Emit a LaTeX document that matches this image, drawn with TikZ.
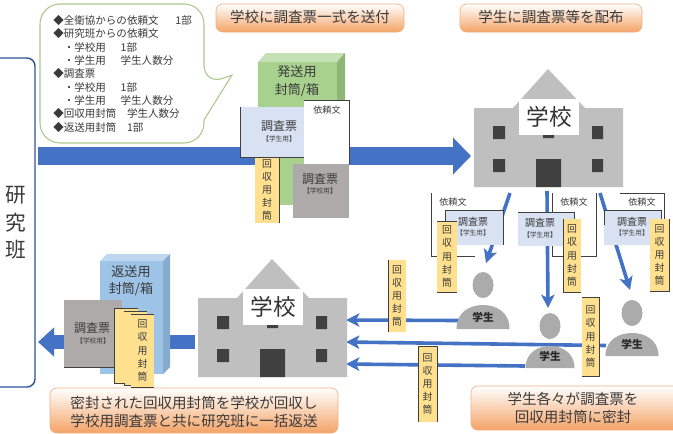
\documentclass[tikz,border=0pt]{standalone}
\usepackage{fontspec}
\setmainfont{Noto Sans CJK JP}
\usetikzlibrary{arrows.meta}
\definecolor{bluearrow}{HTML}{4472C4}
\definecolor{framenavy}{HTML}{2F5597}
\definecolor{txtgray}{HTML}{3A3A3A}
\definecolor{edge}{HTML}{404040}
\definecolor{bldg}{HTML}{BFBFBF}
\definecolor{bldgdark}{HTML}{404040}
\definecolor{person}{HTML}{ABABAB}
\definecolor{envfill}{HTML}{FFE08F}
\definecolor{sheetblue}{HTML}{D9E2F3}
\definecolor{sheetgray}{HTML}{AEAAAA}
\definecolor{greenfront}{HTML}{A9D18E}
\definecolor{greentop}{HTML}{C5E0B4}
\definecolor{greenside}{HTML}{8FB577}
\definecolor{bluefront}{HTML}{9DC3E6}
\definecolor{bluetop}{HTML}{BDD7EE}
\definecolor{blueside}{HTML}{85ABCF}
\definecolor{callout}{HTML}{A9C98E}
\definecolor{bannerline}{HTML}{F4B183}
\definecolor{bannerbase}{HTML}{F4A366}
\tikzset{
  x=.75pt, y=-.75pt,
  txt/.style={inner sep=0pt, text=txtgray, align=center},
  banner/.style={draw=bannerline, line width=.5pt, rounded corners=5pt,
    top color=white, middle color=white!70!bannerbase, bottom color=bannerbase},
  bigarrow/.style={bluearrow, line width=13.5pt, -{Triangle[width=27pt,length=13.5pt]}},
  thinarrow/.style={bluearrow, line width=2.7pt, -{Stealth[length=10pt,width=10pt,inset=2.5pt]}},
  thinedge/.style={edge, line width=.7pt},
  envbody/.style={fill=envfill},
}
% vertical envelope with its stacked caption
\newcommand{\envel}[5]{%
  \fill[envbody] (#2,#3) rectangle (#4,#5);
  \node[txt, font=\fontsize{7.4}{9.8}\selectfont] (#1) at ({(#2+#4)/2},{(#3+#5)/2}) {回\\収\\用\\封\\筒};
}
% questionnaire sheet captions
\newcommand{\sheettext}[6]{%
  \node[txt, font=\fontsize{#4}{#4}\selectfont] (#1a) at (#2,#3) {調査票};
  \node[txt, font=\fontsize{5}{5}\selectfont] (#1b) at (#5,#6) {【#1】};
}
% school building, drawn at its own origin
\newcommand{\school}[3]{%
  \begin{scope}[shift={(#2,#3)}]
    \fill[bldg] (474,108) -- (513,108) -- (548,69) -- (585,108) -- (623,108) -- (623,187) -- (474,187) -- cycle;
    \fill[bldgdark] (493,126) rectangle (505,139) (592,126) rectangle (603,139)
      (493,159) rectangle (505,172) (592,159) rectangle (603,172)
      (536,159) rectangle (561,187) (543,135) rectangle (554,138);
    \fill[white] (519,99) rectangle (579,135);
    \node[txt, text=black!80, font=\fontsize{17}{17}\selectfont] (#1) at (549,117) {学校};
  \end{scope}
}
% student figure: centre x, head y, shoulder top, base, half width
\newcommand{\student}[6]{%
  \fill[person] (#2,#3) ellipse [x radius=10.5, y radius=13];
  \fill[person] (#2-#6,#5) .. controls (#2-#6,#4+6) and (#2-#6*.45,#4) .. (#2,#4)
    .. controls (#2+#6*.45,#4) and (#2+#6,#4+6) .. (#2+#6,#5) -- cycle;
  \node[txt, text=black!85, font=\fontsize{8}{8}\selectfont\bfseries] (#1) at (#2,#5-12) {学生};
}
\begin{document}
\begin{tikzpicture}
\useasboundingbox (0,0) rectangle (673,433);
\fill[white] (0,0) rectangle (673,433);

% research group frame
\draw[framenavy, line width=1.1pt, rounded corners=6pt] (-8,58) -- (35,58) -- (35,387) -- (-8,387);
\node[txt, font=\fontsize{15.5}{20.5}\selectfont] (kenkyu) at (16,223) {研\\究\\班};

% outgoing mail arrow
\coordinate (mailstart) at (38,156);
\coordinate (mailend) at (471,156);
\draw[bigarrow] (mailstart) -- (mailend);

% list of enclosed items
\draw[callout, line width=.8pt, fill=white, rounded corners=15pt]
  (204,85) [sharp corners] -- (232,75) -- (204,120) [rounded corners=15pt]
  -- (204,143) -- (40,143) -- (40,4) -- (204,4) -- cycle;
\node[txt, anchor=north west, align=left, font=\fontsize{7.9}{10}\selectfont] (items) at (53,15) {%
◆全衛協からの依頼文\hspace{1.6em}1部\\
◆研究班からの依頼文\\
\hspace*{1em}・学校用\hspace{1.4em}1部\\
\hspace*{1em}・学生用\hspace{1.4em}学生人数分\\
◆調査票\\
\hspace*{1em}・学校用\hspace{1.4em}1部\\
\hspace*{1em}・学生用\hspace{1.4em}学生人数分\\
◆回収用封筒\hspace{1em}学生人数分\\
◆返送用封筒\hspace{1em}1部};

% section banners
\path[banner] (216,4) rectangle (404,32);
\node[txt, font=\fontsize{10.9}{10.9}\selectfont] (banner1) at (310,17) {学校に調査票一式を送付};
\path[banner] (460,4) rectangle (642,32);
\node[txt, font=\fontsize{10.9}{10.9}\selectfont] (banner2) at (551,17) {学生に調査票等を配布};
\path[banner] (50,388) rectangle (338,433);
\node[txt, font=\fontsize{10.9}{13.5}\selectfont] (banner3) at (194,412) {密封された回収用封筒を学校が回収し\\学校用調査票と共に研究班に一括返送};
\path[banner] (471,386) rectangle (680,430);
\node[txt, font=\fontsize{10.9}{14}\selectfont] (banner4) at (573,408) {学生各々が調査票を\\回収用封筒に密封};

% outgoing box with its contents
\fill[greenfront] (258,62) rectangle (337,205);
\fill[greentop] (258,62) -- (266,53) -- (345,53) -- (337,62) -- cycle;
\fill[greenside] (337,62) -- (345,53) -- (345,110) -- (337,110) -- cycle;
\node[txt, font=\fontsize{9.8}{13.2}\selectfont] (boxout) at (297,81) {発送用\\封筒/箱};
\envel{envout}{255}{157}{279}{223}
\draw[thinedge] (279,157) -- (279,223);
\fill[sheetgray] (293,164) rectangle (349,218);
\sheettext{学校用}{320}{179}{9}{320}{191}
\fill[sheetblue] (240,107) rectangle (305,157);
\draw[thinedge] (240,107) -- (240,157) -- (305,157);
\sheettext{学生用}{279}{126}{9}{279}{139}
\fill[white] (304,100) rectangle (349,164);
\draw[thinedge] (304,100) -- (349,100) -- (349,164);
\node[txt, font=\fontsize{6.8}{6.8}\selectfont] (letter0) at (327,110) {依頼文};

% school receiving the mail
\school{school1}{0}{0}

% arrows from the school to the students
\coordinate (d1s) at (510,193);
\coordinate (d1e) at (486,263);
\coordinate (d2s) at (547,191);
\coordinate (d2e) at (548,308);
\coordinate (d3s) at (600,193);
\coordinate (d3e) at (630,290);
\draw[thinarrow] (d1s) -- (d1e);
\draw[thinarrow] (d2s) -- (d2e);
\draw[thinarrow] (d3s) -- (d3e);

% arrows from the students back to the school
\coordinate (r1s) at (460,320.5);
\coordinate (r1e) at (346,320);
\coordinate (r2s) at (606,345.5);
\coordinate (r2e) at (346,342);
\coordinate (r3s) at (525,366);
\coordinate (r3e) at (346,364);
\draw[thinarrow] (r1s) -- (r1e);
\draw[thinarrow] (r2s) -- (r2e);
\draw[thinarrow] (r3s) -- (r3e);

% document set for the first student
\draw[thinedge] (431,193) -- (431,256) -- (475,256);
\node[txt, font=\fontsize{6.8}{6.8}\selectfont] (letter1) at (453,202) {依頼文};
\fill[sheetblue] (445,210) rectangle (503,245);
\draw[thinedge] (445,225) -- (445,210) -- (503,210) -- (503,245);
\node[txt, font=\fontsize{7.5}{7.5}\selectfont] (sheet1a) at (473,222) {調査票};
\node[txt, font=\fontsize{5}{5}\selectfont] (sheet1b) at (473,233) {【学生用】};
\envel{env1}{437}{221}{457}{292}
\draw[thinedge] (437,221) -- (457,221) (437,292) -- (457,292);

% document set for the second student
\draw[thinedge] (552,193) -- (552,256) -- (596,256) -- (596,193);
\node[txt, font=\fontsize{6.8}{6.8}\selectfont] (letter2) at (574,202) {依頼文};
\fill[sheetblue] (518,212) rectangle (574,246);
\draw[thinedge] (518,212) -- (574,212) -- (574,225);
\node[txt, font=\fontsize{7.5}{7.5}\selectfont] (sheet2a) at (540,223) {調査票};
\node[txt, font=\fontsize{5}{5}\selectfont] (sheet2b) at (540,235) {【学生用】};
\envel{env2}{563}{219}{581}{292}
\draw[thinedge] (563,219) -- (563,292) -- (581,292);

% document set for the third student
\draw[thinedge] (620,193) -- (664,193) -- (664,219);
\node[txt, font=\fontsize{6.8}{6.8}\selectfont] (letter3) at (642,202) {依頼文};
\fill[sheetblue] (604,210) rectangle (661,245);
\draw[thinedge] (604,225) -- (604,210) -- (661,210) -- (661,220);
\node[txt, font=\fontsize{7.5}{7.5}\selectfont] (sheet3a) at (632,222) {調査票};
\node[txt, font=\fontsize{5}{5}\selectfont] (sheet3b) at (632,233) {【学生用】};
\envel{env3}{650}{219}{669}{291}
\draw[thinedge] (650,291) -- (669,291) -- (669,219);

% students
\student{stud1}{483}{285}{305}{329}{26.5}
\student{stud2}{550}{326}{346}{368}{24.5}
\student{stud3}{632}{313}{333}{356}{26.5}

% envelopes returned to the school
\envel{env4}{582}{297}{599}{376}
\draw[thinedge] (582,297) -- (599,297) -- (599,376) -- (582,376);
\envel{env5}{388}{260}{406}{332}
\draw[thinedge] (388,260) -- (388,332);
\envel{env6}{418}{346}{437}{422}
\draw[thinedge] (437,422) -- (437,346) -- (418,346) -- (418,422);

% school sending everything back
\school{school2}{-276}{190}

% return arrow to the research group
\coordinate (backs) at (195,342);
\coordinate (backe) at (38,342);
\draw[bluearrow, line width=10.5pt, -{Triangle[width=21pt,length=12pt]}] (backs) -- (backe);

% return box with its contents
\fill[bluefront] (100,261) rectangle (163,374);
\fill[bluetop] (100,261) -- (107,254) -- (170,254) -- (163,261) -- cycle;
\fill[blueside] (163,261) -- (170,254) -- (170,367) -- (163,374) -- cycle;
\node[txt, font=\fontsize{9.8}{13}\selectfont] (boxback) at (131,281) {返送用\\封筒/箱};
\fill[sheetgray] (64,300) rectangle (122,367);
\draw[thinedge] (64,367) -- (122,367);
\sheettext{学校用}{92}{328}{9}{93}{341}
\fill[envfill] (114,308) rectangle (138,383);
\draw[thinedge] (114,308) -- (138,308) (114,308) -- (114,383) -- (124,383);
\fill[envfill] (124,311) rectangle (147,385);
\draw[thinedge] (124,311) -- (147,311) (124,383) -- (124,385) -- (131,385);
\envel{env7}{131}{314}{154}{387}
\draw[thinedge] (131,314) -- (154,314) (131,387) -- (154,387);
\end{tikzpicture}
\end{document}
